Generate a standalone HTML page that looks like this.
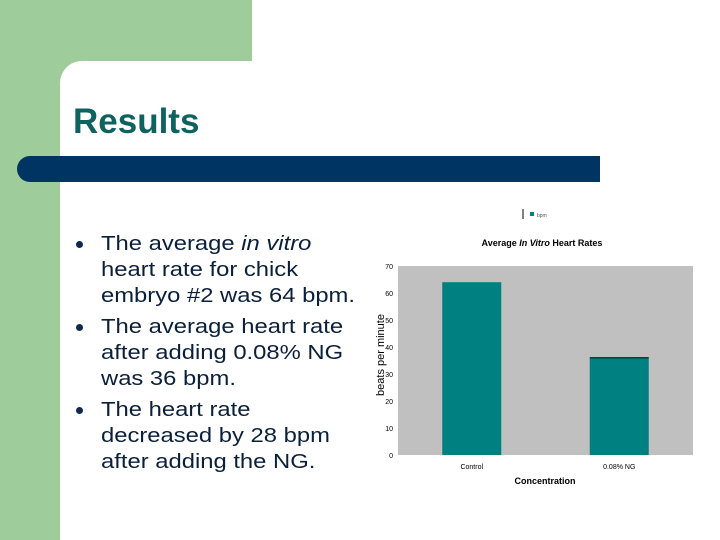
<!DOCTYPE html>
<html><head><meta charset="utf-8"><style>
body{margin:0;width:720px;height:540px;position:relative;overflow:hidden;background:#fff;font-family:"Liberation Sans",Arial,sans-serif}
.abs{position:absolute}
.txt{font-size:20px;line-height:26px;color:#0a1f3a}
.b{position:relative;white-space:nowrap;margin-bottom:5px}
.b .t{display:inline-block;margin-left:28px;transform:scaleX(1.19);transform-origin:0 0}
.b .d{position:absolute;left:3px;top:10px;width:7px;height:7px;border-radius:50%;background:#0d2a4d}
</style></head><body>
<div class="abs" style="left:0;top:0;width:60px;height:540px;background:#9ecc9a"></div>
<div class="abs" style="left:0;top:0;width:252px;height:61px;background:#9ecc9a"></div>
<div class="abs" style="left:60px;top:61px;width:30px;height:30px;background:#9ecc9a"></div>
<div class="abs" style="left:60px;top:61px;width:60px;height:60px;background:#fff;border-top-left-radius:22px"></div>
<div class="abs" style="left:73px;top:101px;font-size:35px;font-weight:bold;color:#0e6361;line-height:42px">Results</div>
<div class="abs" style="left:17px;top:156px;width:583px;height:26px;background:#003462;border-radius:13px 0 0 13px"></div>
<div class="abs txt" style="left:73px;top:231px;width:300px">
<div class="b"><span class="d"></span><span class="t">The average <i>in vitro</i><br>heart rate for chick<br>embryo #2 was 64 bpm.</span></div>
<div class="b"><span class="d"></span><span class="t">The average heart rate<br>after adding 0.08% NG<br>was 36 bpm.</span></div>
<div class="b"><span class="d"></span><span class="t">The heart rate<br>decreased by 28 bpm<br>after adding the NG.</span></div>
</div>
<svg class="abs" style="left:0;top:0" width="720" height="540" id="chart"></svg>
<script>
const categories=["Control","0.08% NG"];
const values=[64,36];
const ticks=[0,10,20,30,40,50,60,70];
const NS="http://www.w3.org/2000/svg";
const svg=document.getElementById('chart');
const px0=398,px1=693,py0=455,py1=266,ymax=70;
const y=v=>py0-(v/ymax)*(py0-py1);
const xc=i=>px0+(px1-px0)*(i+0.5)/categories.length;
function mk(t,a,txt){const e=document.createElementNS(NS,t);for(const k in a)e.setAttribute(k,a[k]);if(txt!=null)e.textContent=txt;svg.appendChild(e);return e;}
let e=mk('rect',{x:px0,y:py1,width:px1-px0,height:py0-py1,fill:'#c0c0c0'});


ticks.forEach(t=>{const l=mk('text',{x:393,y:y(t)+3,'font-size':7,'text-anchor':'end',fill:'#000'},t);

});
const bw=59;
values.forEach((v,i)=>{const r=mk('rect',{x:xc(i)-bw/2,y:y(v),width:bw,height:py0-y(v),fill:'#008080'});


const l=mk('text',{x:xc(i),y:469,'font-size':7,'text-anchor':'middle',fill:'#000'},categories[i]);

});
mk('line',{x1:xc(1)-bw/2,x2:xc(1)+bw/2,y1:y(values[1]),y2:y(values[1]),stroke:'#000','stroke-width':1});
e=mk('text',{x:542,y:246,'font-size':9,'font-weight':'bold','text-anchor':'middle'});
e.innerHTML='Average <tspan font-style="italic">In Vitro</tspan> Heart Rates';


e=mk('text',{x:545,y:484,'font-size':9,'font-weight':'bold','text-anchor':'middle'},'Concentration');


e=mk('text',{x:384,y:355,'font-size':11,'text-anchor':'middle',transform:'rotate(-90 384 355)'},'beats per minute');


mk('line',{x1:523,x2:523,y1:209,y2:219,stroke:'#000'});
e=mk('rect',{x:530,y:212,width:4,height:4,fill:'#008080'});


e=mk('text',{x:537,y:217,'font-size':5,fill:'#555'},'bpm');


</script>
</body></html>
